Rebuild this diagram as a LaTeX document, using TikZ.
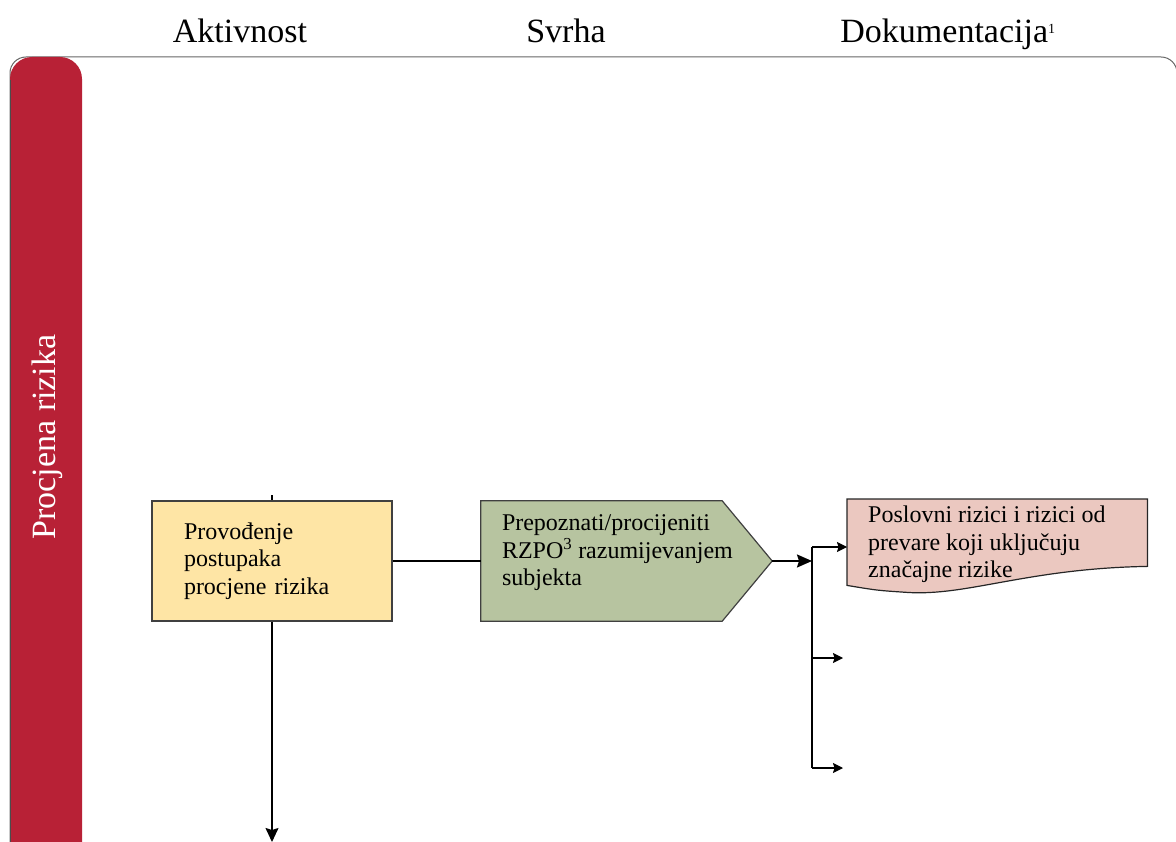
\documentclass[tikz,border=0pt]{standalone}
\usepackage{fontspec}
\setmainfont{Liberation Serif}
\usepackage{tikz}
\usetikzlibrary{positioning,arrows.meta}

\definecolor{laneRed}{RGB}{184,33,54}
\definecolor{actYellow}{RGB}{254,229,165}
\definecolor{purpGreen}{RGB}{183,196,160}
\definecolor{docPink}{RGB}{235,200,192}

\begin{document}
\begin{tikzpicture} [x=1pt,y=-1pt,
	head/.style={font=\fontsize{34}{40}\selectfont,anchor=base},
	boxtext/.style={font=\fontsize{24}{27.5}\selectfont,align=left,inner sep=0pt},
	actbox/.style={draw=black!75,line width=1.2pt,fill=actYellow,minimum width=240pt,minimum height=120pt,text width=176pt,inner xsep=32pt,boxtext},
	purpbox/.style={minimum width=291pt,minimum height=120pt,inner sep=0pt},
	docbox/.style={minimum width=300pt,minimum height=67pt,inner sep=0pt,anchor=north west},
	flow/.style={line width=1.8pt},
	arr/.style={flow,-{Stealth[length=15pt,width=13pt,inset=2pt]}},
	branch/.style={line width=1.3pt,-{Stealth[length=10pt,width=10pt,inset=1.5pt]}}]
	\useasboundingbox (0,0) rectangle (1176,842);
	\clip (0,0) rectangle (1176,842);
	% column heads
	\node[head] (hAkt) at (240,43) {Aktivnost};
	\node[head] (hSvr) at (566,43) {Svrha};
	\node[head] (hDok) at (948,43) {Dokumentacija\textsuperscript{\fontsize{14}{14}\selectfont 1}};
	% lane
	\draw[black!60,line width=1pt,rounded corners=16pt] (10,57) rectangle (1177,900);
	\fill[laneRed,rounded corners=22pt] (10,57) rectangle (82,900);
	\draw[black!70,line width=1pt] (10,80) -- (10,842);
	\node[font=\fontsize{34}{40}\selectfont,text=white,rotate=90] (lane) at (47,437) {Procjena rizika};
	% activity
	\node[actbox] (act) at (272,561) {Provođenje\\postupaka\\procjene rizika};
	% purpose
	\node[purpbox] (purp) at (626.5,561) {};
	\draw[draw=black!75,line width=1.2pt,fill=purpGreen] (purp.north west) -- ([xshift=-50pt]purp.north east) -- (purp.east) -- ([xshift=-50pt]purp.south east) -- (purp.south west) -- cycle;
	\node[boxtext,anchor=north west,below right=14pt and 21pt of purp.north west] (purptxt) {Prepoznati/procijeniti\\RZPO\textsuperscript{3} razumijevanjem\\subjekta};
	% documentation
	\node[docbox] (doc) at (847,499) {};
	\draw[draw=black!85,line width=1.2pt,fill=docPink] (doc.north west) -- (doc.north east) -- (doc.south east)
		.. controls ([shift={(-120,2)}]doc.south east) and ([shift={(120,30)}]doc.south west) .. ([shift={(60,26)}]doc.south west)
		.. controls ([shift={(30,24)}]doc.south west) .. ([shift={(0,19)}]doc.south west) -- cycle;
	\node[boxtext,anchor=north west,below right=7pt and 21pt of doc.north west] (doctxt) {Poslovni rizici i rizici od\\prevare koji uključuju\\značajne rizike};
	% connectors
	\coordinate (actin) at (272,495);
	\coordinate (actout) at (272,842);
	\coordinate (split) at (812,561);
	\coordinate (ctop) at (812,547);
	\coordinate (cbot) at (812,768);
	\coordinate (out2) at (843,658);
	\coordinate (out3) at (843,768);
	\draw[line width=1.3pt] (actin) -- (act.north);
	\draw[line width=1.3pt,-{Stealth[length=14pt,width=13pt,inset=2pt]}] (act.south) -- (actout);
	\draw[flow] (act.east) -- (purp.west);
	\draw[arr] (purp.east) -- (split);
	\draw[line width=1.3pt] (ctop) -- (cbot);
	\draw[branch] (ctop) -- (ctop -| doc.west);
	\draw[branch] (out2 -| ctop) -- (out2);
	\draw[branch] (cbot) -- (out3);
\end{tikzpicture}
\end{document}
